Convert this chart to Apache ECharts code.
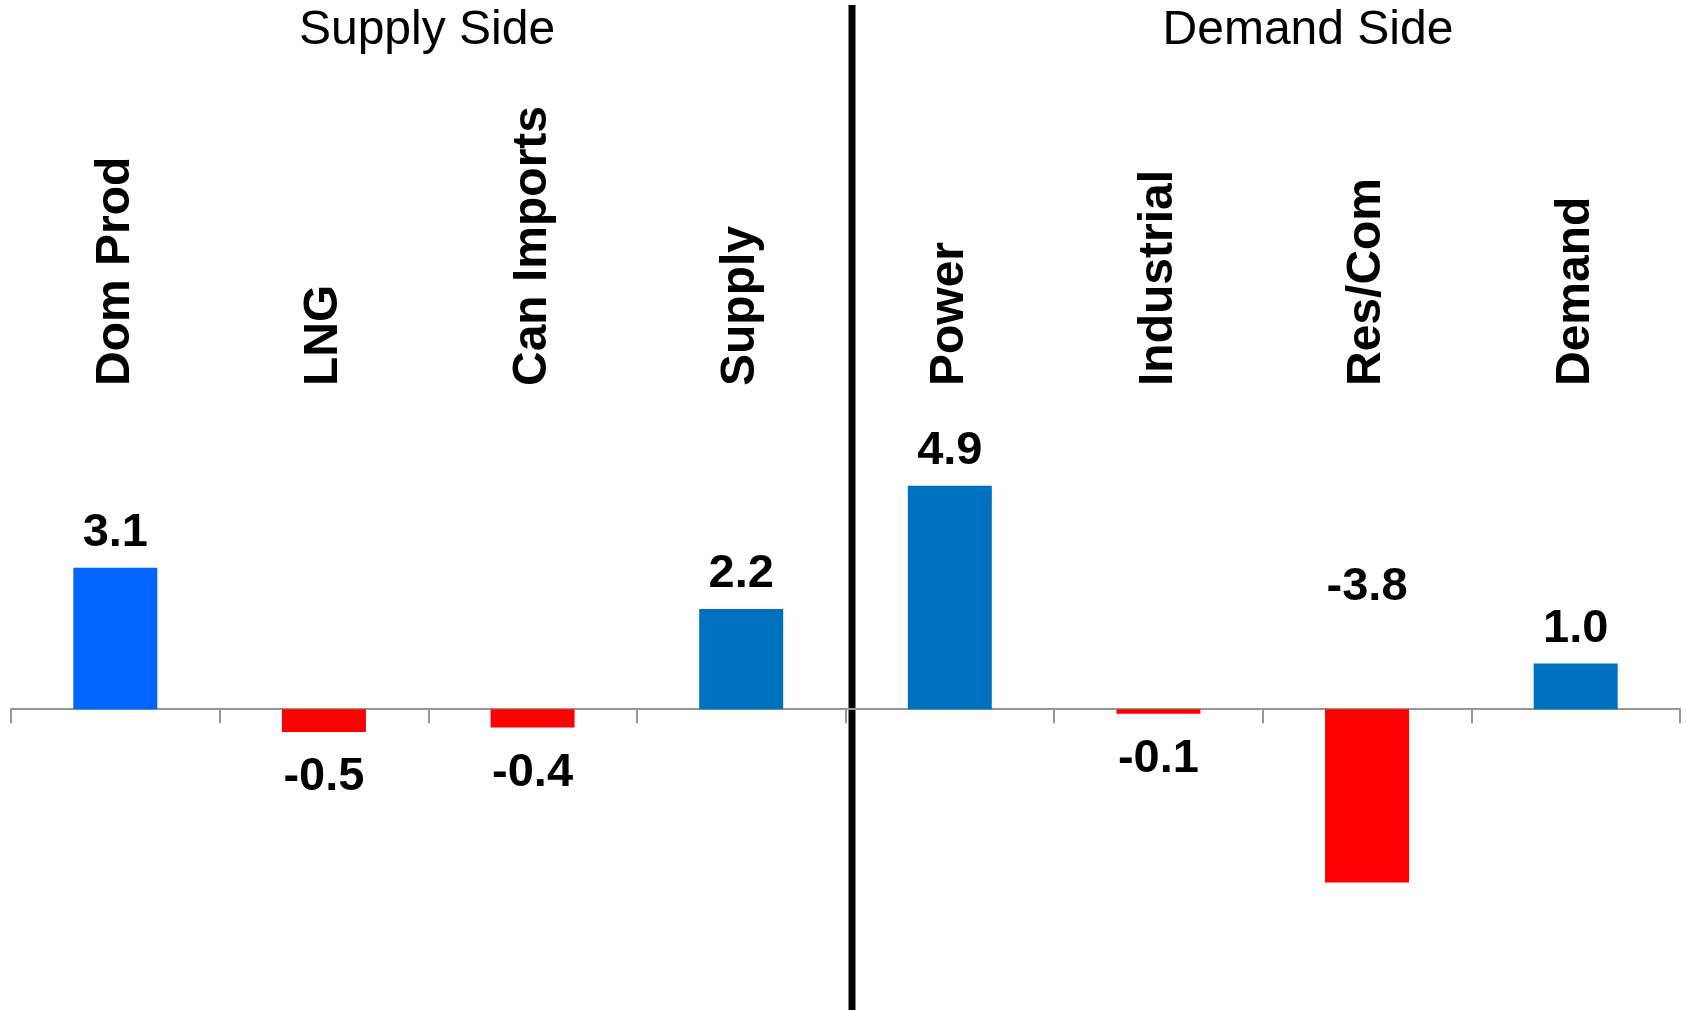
<!DOCTYPE html>
<html>
<head>
<meta charset="utf-8">
<title>Supply / Demand</title>
<script src="https://cdn.jsdelivr.net/npm/echarts@6/dist/echarts.min.js"></script>
<style>
    html, body { margin: 0; padding: 0; background: #fff; }
    #main { width: 1686px; height: 1010px; }
</style>
</head>
<body>
<div id="main"></div>
<script>
    // categories and values
    var categories = ['Dom Prod', 'LNG', 'Can Imports', 'Supply', 'Power', 'Industrial', 'Res/Com', 'Demand'];
    var values = [3.1, -0.5, -0.4, 2.2, 4.9, -0.1, -3.8, 1.0];
    var sideTitles = ['Supply Side', 'Demand Side'];

    var font = '"Liberation Sans", Arial, sans-serif';

    var barData = values.map(function (v, i) {
        var item = {
            value: v,
            itemStyle: { color: v < 0 ? '#ff0000' : (i === 0 ? '#0066ff' : '#0070c0') },
            label: { position: v < 0 ? 'bottom' : 'top', distance: v < 0 ? 22 : 11 }
        };
        // Res/Com label sits above the axis in the original
        if (i === 6) {
            item.label = { position: 'top', distance: 99 };
        }
        return item;
    });

    var myChart = echarts.init(document.getElementById('main'));

    var option = {
        animation: false,
        backgroundColor: '#fff',
        title: [
            { text: sideTitles[0], left: 422, top: 2, textAlign: 'center',
              textStyle: { fontFamily: font, fontSize: 48, fontWeight: 'normal', color: '#000' } },
            { text: sideTitles[1], left: 1303, top: 2, textAlign: 'center',
              textStyle: { fontFamily: font, fontSize: 48, fontWeight: 'normal', color: '#000' } }
        ],
        grid: { left: 11, right: 6, top: 390, bottom: 4.4, containLabel: false },
        xAxis: [{
            type: 'category',
            data: categories,
            position: 'bottom',
            axisLine: { onZero: true, lineStyle: { color: '#969696', width: 2 } },
            axisTick: { show: true, length: 14, lineStyle: { color: '#969696', width: 2 } },
            axisLabel: { show: false },
            splitLine: { show: false }
        }, {
            type: 'category',
            data: categories,
            position: 'top',
            axisLine: { show: false },
            axisTick: { show: false },
            axisLabel: {
                interval: 0,
                rotate: -90,
                margin: 4,
                padding: [6, 0, 0, 0],
                fontFamily: font,
                fontSize: 48,
                fontWeight: 'bold',
                color: '#000'
            }
        }],
        yAxis: {
            type: 'value',
            min: -6.5,
            max: 7,
            show: false,
            splitLine: { show: false }
        },
        series: [{
            type: 'bar',
            xAxisIndex: 0,
            barWidth: 84,
            data: barData,
            label: {
                show: true,
                fontFamily: font,
                fontSize: 47,
                fontWeight: 'bold',
                color: '#000',
                formatter: function (p) { return p.value.toFixed(1); }
            }
        }],
        graphic: [{
            type: 'line',
            shape: { x1: 852, y1: 5, x2: 852, y2: 1010 },
            style: { stroke: '#000', lineWidth: 7 }
        }]
    };

    myChart.setOption(option);
</script>
</body>
</html>
